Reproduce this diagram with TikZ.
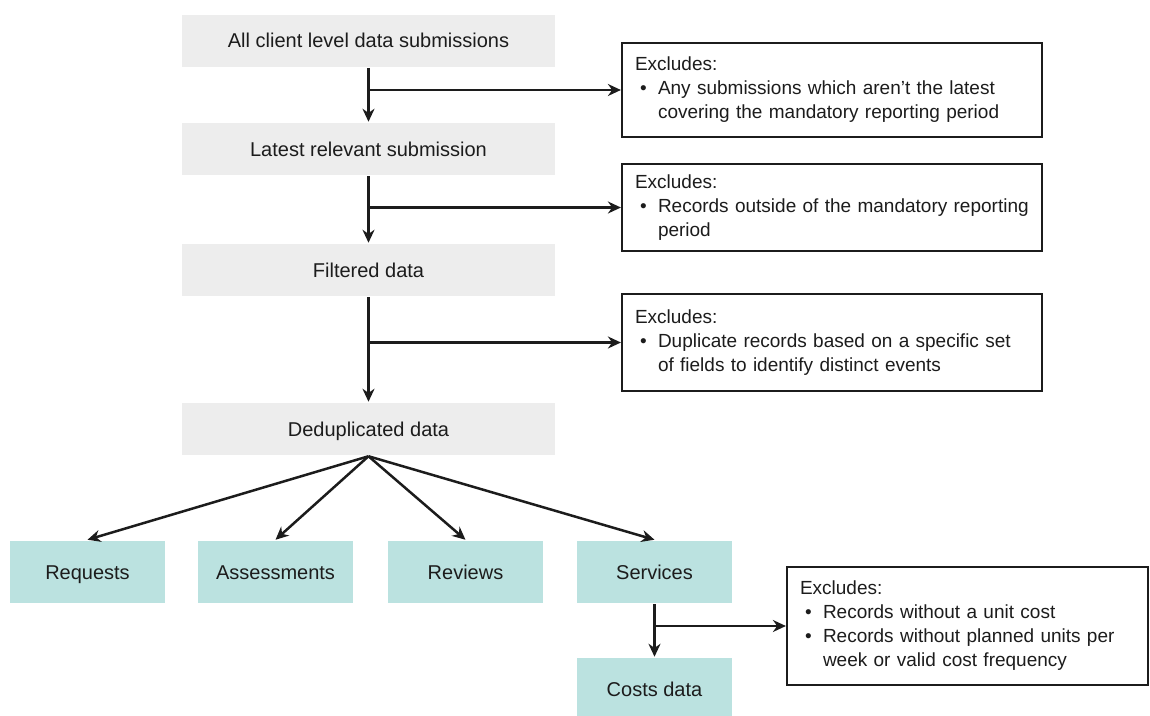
\documentclass[tikz,border=0pt]{standalone}
\usepackage{fontspec}
\setmainfont{Liberation Sans}
\usetikzlibrary{arrows.meta}

\definecolor{boxgrey}{RGB}{237,237,237}
\definecolor{boxteal}{RGB}{187,226,224}
\definecolor{inkgrey}{RGB}{28,28,28}
\newcommand{\exbullet}{\makebox[23pt][l]{\hspace{5pt}\textbullet}}
\newcommand{\exindent}{\hspace*{23pt}}

\begin{document}
\begin{tikzpicture}[x=1pt,y=1pt,->,>={Stealth[length=13pt,width=12pt]},line width=2.5pt,inkgrey,
  step node/.style={fill=boxgrey,minimum width=373pt,minimum height=52pt,text height=15pt,text depth=1pt,font=\fontsize{20}{24}\selectfont},
  table node/.style={fill=boxteal,minimum width=155pt,minimum height=62pt,text height=15pt,text depth=1pt,font=\fontsize{20}{24}\selectfont},
  note node/.style={draw,line width=2.2pt,fill=white,inner xsep=13pt,align=left,font=\fontsize{19}{24}\selectfont}]

	\useasboundingbox (0,0) rectangle (1150,-715);

	% main pipeline
	\node[step node] (all) at (368.5,-40.5) {All client level data submissions};
	\node[step node] (latest) [below of=all, node distance=108.5pt] {Latest relevant submission};
	\node[step node] (filtered) [below of=latest, node distance=121pt] {Filtered data};
	\node[step node] (dedup) [below of=filtered, node distance=159pt] {Deduplicated data};

	% data tables
	\node[table node] (requests) at (87.5,-572) {Requests};
	\node[table node] (assess) [right of=requests, node distance=188pt] {Assessments};
	\node[table node] (reviews) [right of=assess, node distance=190pt] {Reviews};
	\node[table node] (services) [right of=reviews, node distance=189pt] {Services};
	\node[table node] (costs) [below of=services, node distance=117pt] {Costs data};

	% exclusions
	\node[note node, minimum width=420pt, minimum height=94pt, text width=394pt] (ex1) at (832,-90)
		{Excludes:\\ \exbullet Any submissions which aren’t the latest\\ \exindent covering the mandatory reporting period};
	\node[note node, minimum width=420pt, minimum height=87pt, text width=394pt] (ex2) [below of=ex1, node distance=117.5pt]
		{Excludes:\\ \exbullet Records outside of the mandatory reporting\\ \exindent period};
	\node[note node, minimum width=420pt, minimum height=97pt, text width=394pt] (ex3) [below of=ex2, node distance=135pt]
		{Excludes:\\ \exbullet Duplicate records based on a specific set\\ \exindent of fields to identify distinct events};
	\node[note node, minimum width=361pt, minimum height=118pt, text width=335pt] (ex4) at (967.5,-626)
		{Excludes:\\ \exbullet Records without a unit cost\\ \exbullet Records without planned units per\\ \exindent week or valid cost frequency};

	\coordinate (b1) at (all.south |- ex1.west);
	\coordinate (b2) at (latest.south |- ex2.west);
	\coordinate (b3) at (filtered.south |- ex3.west);
	\coordinate (b4) at (services.south |- ex4.west);

	\path
	(all) edge (latest)
	(b1) edge (ex1.west)
	(latest) edge (filtered)
	(b2) edge (ex2.west)
	(filtered) edge (dedup)
	(b3) edge (ex3.west)
	(dedup.south) edge (requests.north)
	(dedup.south) edge (assess.north)
	(dedup.south) edge (reviews.north)
	(dedup.south) edge (services.north)
	(services) edge (costs)
	(b4) edge (ex4.west);

\end{tikzpicture}
\end{document}
